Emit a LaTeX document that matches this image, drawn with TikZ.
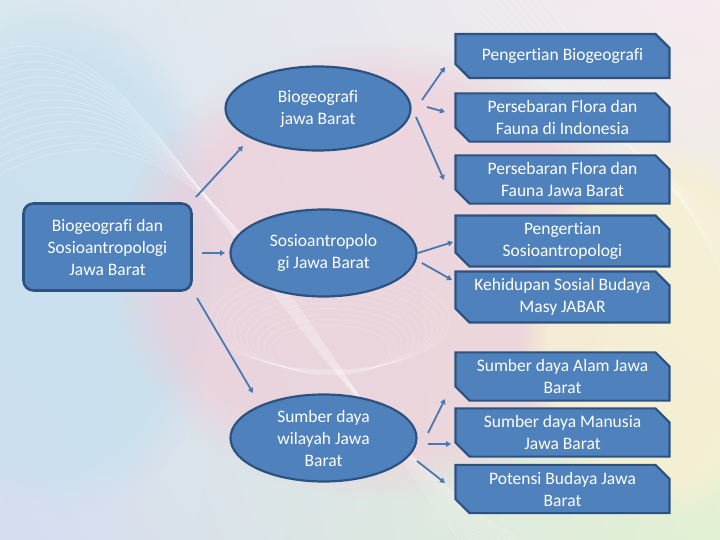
\documentclass[tikz,border=0pt]{standalone}
\usepackage{fontspec}
\setmainfont[Ligatures=NoCommon]{Carlito}
\usetikzlibrary{shapes.misc,shapes.geometric,arrows.meta,fadings,shadings}
\definecolor{boxfill}{HTML}{4F81BD}
\definecolor{boxline}{HTML}{2C5282}
\definecolor{arrowc}{HTML}{4A78B0}
\definecolor{bgul}{HTML}{D9E7EE}
\definecolor{bgur}{HTML}{F7EAF0}
\definecolor{bgll}{HTML}{D6DCF2}
\definecolor{bglr}{HTML}{E2F1D2}
\definecolor{bgpink}{HTML}{F0CCD8}
\definecolor{bgyel}{HTML}{F8F0D2}
\definecolor{bgblue}{HTML}{C6E0EE}
\tikzset{
  every node/.style={font=\fontsize{17.5}{22}\selectfont, text=white, align=center},
  snipbox/.style={chamfered rectangle, chamfered rectangle corners={north east,south west},
    chamfered rectangle xsep=7pt, chamfered rectangle ysep=7pt,
    fill=boxfill, draw=boxline, line width=2.2pt, minimum width=214pt, minimum height=44pt, inner sep=0pt},
  ovalbox/.style={ellipse, fill=boxfill, draw=boxline, line width=2.2pt, inner sep=0pt},
  mainbox/.style={rectangle, rounded corners=10pt, fill=boxfill, draw=boxline, line width=2.6pt,
    minimum width=168pt, minimum height=87pt, inner sep=0pt},
  conn/.style={draw=arrowc, line width=1.8pt, -{Triangle[length=5pt,width=5.5pt]}}
}
\begin{document}
\begin{tikzpicture}[x=1pt,y=-1pt]
\useasboundingbox (0,0) rectangle (720,540);
% background
\shade[upper left=bgul, upper right=bgur, lower left=bgll, lower right=bglr] (0,0) rectangle (720,540);
\fill[bgblue, path fading=circle with fuzzy edge 20 percent, opacity=0.7] (60,260) ellipse (170 and 260);
\fill[bgpink, path fading=circle with fuzzy edge 20 percent, opacity=0.65] (380,270) ellipse (270 and 230);
\fill[bgyel, path fading=circle with fuzzy edge 20 percent, opacity=0.8] (660,330) ellipse (140 and 190);
\foreach \i in {0,...,14}{
  \draw[white, opacity=0.35, line width=0.5pt]
    (-20,{60+\i*9}) .. controls ({150+\i*4},{-40+\i*6}) and ({260+\i*3},{420-\i*5}) .. ({560-\i*6},{560});
}
\foreach \i in {0,...,10}{
  \draw[white, opacity=0.25, line width=0.5pt]
    (330,{320+\i*3}) ellipse ({120-\i*6} and {50-\i*2.5});
}
\foreach \i in {0,...,12}{
  \draw[white, opacity=0.3, line width=0.5pt]
    ({440+\i*8},-10) .. controls ({560+\i*6},{120}) and ({740},{200+\i*5}) .. (740,{260+\i*8});
}
% nodes
\node[mainbox] (lb) at (107.5,247) {Biogeografi dan\\Sosioantropologi\\Jawa Barat};
\node[ovalbox, minimum width=185pt, minimum height=84pt] (e1) at (318,108.5) {Biogeografi\\jawa Barat};
\node[ovalbox, minimum width=186pt, minimum height=87pt] (e2) at (323.5,253) {Sosioantropolo\\gi Jawa Barat};
\node[ovalbox, minimum width=186pt, minimum height=87pt] (e3) at (323.5,438) {Sumber daya\\wilayah Jawa\\Barat};
\node[snipbox] (b1) at (562.5,56) {Pengertian Biogeografi};
\node[snipbox] (b2) at (562.5,117.5) {Persebaran Flora dan\\Fauna di Indonesia};
\node[snipbox] (b3) at (562.5,179.5) {Persebaran Flora dan\\Fauna Jawa Barat};
\node[snipbox] (b4) at (562.5,241) {Pengertian\\Sosioantropologi};
\node[snipbox] (b5) at (562.5,297) {Kehidupan Sosial Budaya\\Masy JABAR};
\node[snipbox] (b6) at (562.5,376.5) {Sumber daya Alam Jawa\\Barat};
\node[snipbox] (b7) at (562.5,432.5) {Sumber daya Manusia\\Jawa Barat};
\node[snipbox] (b8) at (562.5,489) {Potensi Budaya Jawa\\Barat};
% connectors
\draw[conn] ([shift={(88.5,-50)}]lb.center) -- ([shift={(-75,37.5)}]e1.center);
\draw[conn] ([shift={(94.5,6)}]lb.center) -- ([shift={(-98.5,0)}]e2.center);
\draw[conn] ([shift={(89.5,51)}]lb.center) -- ([shift={(-70.5,-45)}]e3.center);
\draw[conn] ([shift={(104,-8.5)}]e1.center) -- ([shift={(-117.5,11)}]b1.center);
\draw[conn] ([shift={(109,-1.5)}]e1.center) -- ([shift={(-117.5,-5.5)}]b2.center);
\draw[conn] ([shift={(98,8.5)}]e1.center) -- ([shift={(-118.5,0.5)}]b3.center);
\draw[conn] ([shift={(94.5,0)}]e2.center) -- ([shift={(-109.5,1)}]b4.center);
\draw[conn] ([shift={(98.5,10)}]e2.center) -- ([shift={(-110.5,-17)}]b5.center);
\draw[conn] ([shift={(104.5,-5)}]e3.center) -- ([shift={(-117.5,22.5)}]b6.center);
\draw[conn] ([shift={(104.5,6)}]e3.center) -- ([shift={(-111.5,11.5)}]b7.center);
\draw[conn] ([shift={(93.5,23)}]e3.center) -- ([shift={(-117.5,-6)}]b8.center);
\end{tikzpicture}
\end{document}
